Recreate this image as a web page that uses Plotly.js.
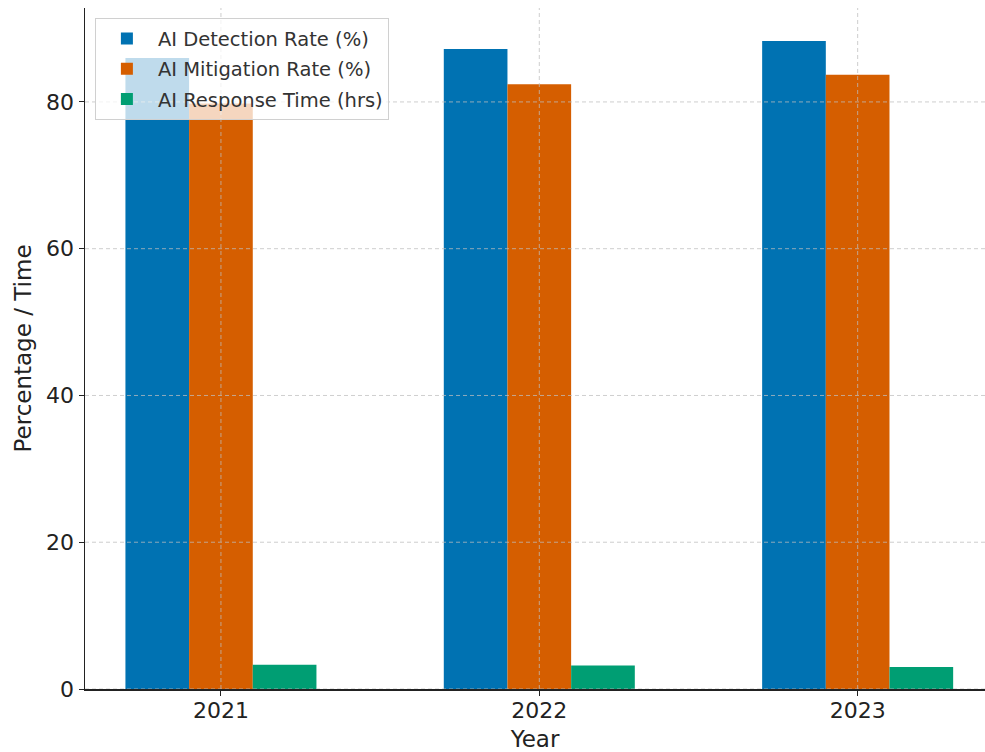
<!DOCTYPE html>
<html>
<head>
<meta charset="utf-8">
<script src="https://cdn.plot.ly/plotly-3.0.1.min.js"></script>
<style>html,body{margin:0;padding:0;background:#fff;}#chart{width:985px;height:752px;}</style>
</head>
<body>
<div id="chart"></div>
<script>
const years = [2021, 2022, 2023];
const detectionRate = [86.0, 87.2, 88.3];
const mitigationRate = [79.8, 82.4, 83.7];
const responseTime = [3.3, 3.2, 3.0];
const seriesNames = ["AI Detection Rate (%)", "AI Mitigation Rate (%)", "AI Response Time (hrs)"];
const seriesColors = ["#0072B2", "#D55E00", "#009E73"];
const yTicks = [0, 20, 40, 60, 80];

const font = "DejaVu Sans, sans-serif";
const seriesValues = [detectionRate, mitigationRate, responseTime];
const offsets = [-0.3, -0.1, 0.1];

const traces = seriesValues.map((vals, i) => ({
  type: "bar",
  x: years,
  y: vals,
  name: seriesNames[i],
  legendgroup: "g" + i,
  width: 0.2,
  offset: offsets[i],
  marker: {color: seriesColors[i], line: {width: 0}}
}));

const gridStyle = {color: "rgba(190,190,190,0.75)", width: 1, dash: "4px,3px"};
const shapes = [];
years.forEach(v => shapes.push({type: "line", layer: "above", xref: "x", yref: "paper", x0: v, x1: v, y0: 0, y1: 1, line: gridStyle}));
yTicks.forEach(v => shapes.push({type: "line", layer: "above", xref: "paper", yref: "y", x0: 0, x1: 1, y0: v, y1: v, line: gridStyle}));

const layout = {
  width: 985, height: 752,
  margin: {l: 85, r: 0, t: 8, b: 63},
  paper_bgcolor: "#fff", plot_bgcolor: "#fff",
  font: {family: font, color: "#222"},
  barmode: "overlay",
  showlegend: true,
  legend: {
    x: 0.011, y: 0.985, xanchor: "left", yanchor: "top",
    bgcolor: "rgba(255,255,255,0.75)", bordercolor: "#d0d0d0", borderwidth: 1,
    font: {family: font, size: 19.5, color: "#333"},
    itemwidth: 52, tracegroupgap: 2
  },
  xaxis: {
    range: [2020.573, 2023.4],
    tickvals: years, ticktext: years.map(String),
    showgrid: false, zeroline: false,
    showline: true, linecolor: "#222", linewidth: 1.5,
    ticks: "outside", ticklen: 5, tickcolor: "#222",
    ticklabelstandoff: -4,
    tickfont: {family: font, size: 22, color: "#222"},
    title: {text: "Year", font: {family: font, size: 23, color: "#222"}, standoff: 10}
  },
  yaxis: {
    range: [0, 92.8],
    tickvals: yTicks,
    showgrid: false, zeroline: false,
    showline: true, linecolor: "#222", linewidth: 1.5,
    ticks: "outside", ticklen: 5, tickcolor: "#222",
    tickfont: {family: font, size: 22, color: "#222"},
    title: {text: "Percentage / Time", font: {family: font, size: 23, color: "#222"}, standoff: 8}
  },
  shapes: shapes
};

Plotly.newPlot("chart", traces, layout, {displayModeBar: false, staticPlot: true});
</script>
</body>
</html>
